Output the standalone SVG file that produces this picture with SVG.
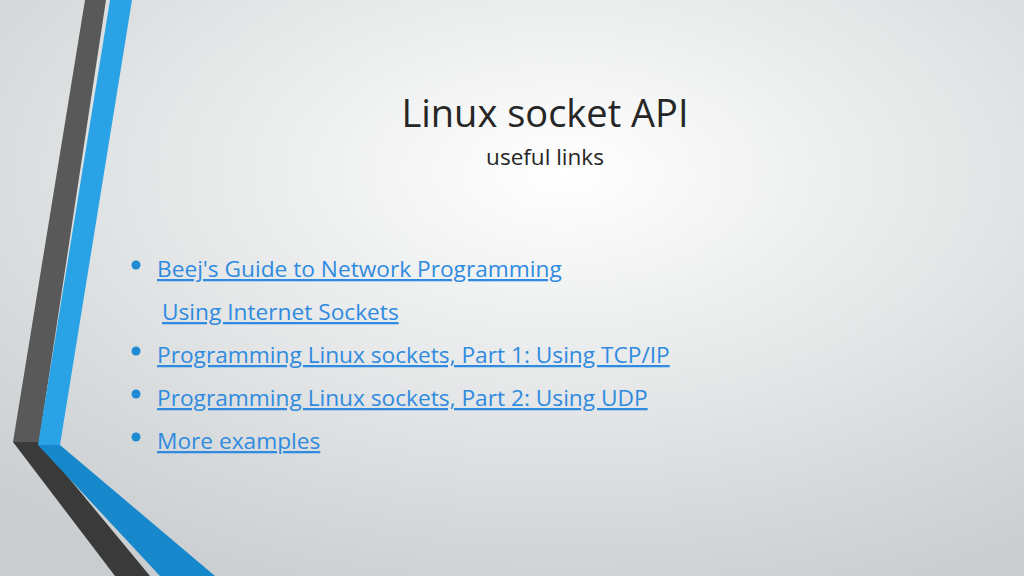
<svg xmlns="http://www.w3.org/2000/svg" width="1024" height="576" viewBox="0 0 1024 576">
<defs>
<radialGradient id="bg" cx="0.55" cy="0.3" r="0.8">
<stop offset="0" stop-color="#ffffff"/><stop offset="1" stop-color="#c9cdcf"/>
</radialGradient>
<style>
.t{font-family:"Open Sans","Liberation Sans",sans-serif;fill:#262626}
.l{font-family:"Open Sans","Liberation Sans",sans-serif;font-size:22.7px;fill:#2f8be0;text-decoration:underline}
.b{fill:#1e8bd4}
</style>
</defs>
<rect width="1024" height="576" fill="url(#bg)"/>
<g id="decor">
<polygon points="85,0 106,0 39,442 13,442" fill="#595959"/>
<polygon points="13,442 39,442 150,576 115,576" fill="#3a3a3a"/>
<polygon points="110,0 132,0 60,445 38,445" fill="#2aa3e6"/>
<polygon points="38,445 60,445 215,576 160,576" fill="#1788cc"/>
</g>
<g id="title">
<text class="t" x="545" y="127" font-size="38" text-anchor="middle">Linux socket API</text>
<text class="t" x="545" y="165" font-size="22.5" text-anchor="middle">useful links</text>
</g>
<g id="links">
<circle class="b" cx="136" cy="265" r="4.5"/>
<text class="l" x="157" y="277">Beej's Guide to Network Programming</text>
<text class="l" x="162" y="320">Using Internet Sockets</text>
<circle class="b" cx="136" cy="351" r="4.5"/>
<text class="l" x="157" y="363">Programming Linux sockets, Part 1: Using TCP/IP</text>
<circle class="b" cx="136" cy="394" r="4.5"/>
<text class="l" x="157" y="406">Programming Linux sockets, Part 2: Using UDP</text>
<circle class="b" cx="136" cy="437" r="4.5"/>
<text class="l" x="157" y="449">More examples</text>
</g>
</svg>
